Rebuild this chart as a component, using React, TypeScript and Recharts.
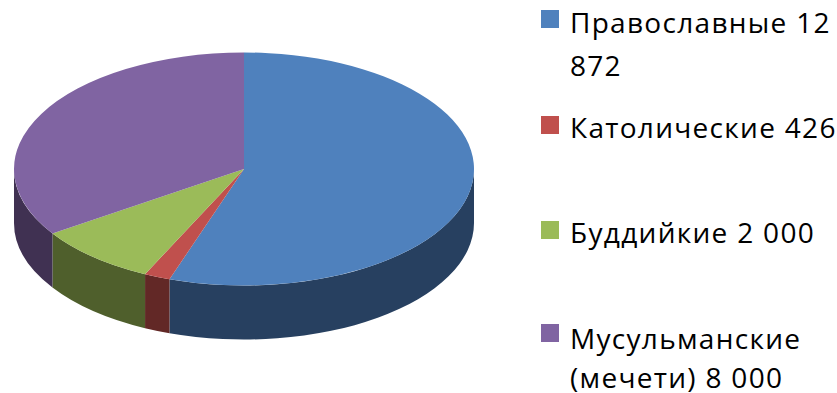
import React from "react";
import { PieChart, Pie, Legend } from "recharts";

const categories = ["Православные", "Католические", "Буддийкие", "Мусульманские (мечети)"];
const values = [12872, 426, 2000, 8000];
const legendLines = [
  ["Православные 12", "872"],
  ["Католические 426"],
  ["Буддийкие 2 000"],
  ["Мусульманские", "(мечети) 8 000"],
];
const topColors = ["#4F81BD", "#C0504D", "#9BBB59", "#8064A2"];
const sideColors = ["#274060", "#622826", "#4F5F2C", "#403152"];

const TILT = 116.5 / 230;
const DEPTH = 54;
const rowData = categories.map((name, i) => ({ name, value: values[i], fill: topColors[i], side: sideColors[i] }));

const pt = (cx: number, cy: number, r: number, deg: number) => {
  const a = (deg * Math.PI) / 180;
  return [cx + r * Math.cos(a), cy - r * TILT * Math.sin(a)];
};

const TopShape = (p: any) => {
  const { cx, cy, outerRadius: r, startAngle: s, endAngle: e, fill } = p;
  const [x0, y0] = pt(cx, cy, r, s);
  const [x1, y1] = pt(cx, cy, r, e);
  const large = Math.abs(s - e) > 180 ? 1 : 0;
  return (
    <path
      d={`M${cx},${cy}L${x0},${y0}A${r},${r * TILT} 0 ${large} 1 ${x1},${y1}Z`}
      fill={fill}
      stroke="none"
    />
  );
};

const SideShape = (p: any) => {
  const { cx, cy, outerRadius: r, startAngle: s, endAngle: e, side } = p;
  // Only the front half of the rim (180° to 360°, i.e. -180° to 0°) can be seen
  const hi = Math.min(s, 0);
  const lo = Math.max(e, -180);
  if (hi <= lo) return <g />;
  const [x0, y0] = pt(cx, cy, r, hi);
  const [x1, y1] = pt(cx, cy, r, lo);
  const ry = r * TILT;
  return (
    <path
      d={`M${x0},${y0}A${r},${ry} 0 0 1 ${x1},${y1}L${x1},${y1 + DEPTH}A${r},${ry} 0 0 0 ${x0},${y0 + DEPTH}Z`}
      fill={side}
      stroke="none"
    />
  );
};

const markerTops = [10, 116, 221, 324];
const lineTops = [[9, 52], [114], [219], [325, 364]];

const LegendBox = () => (
  <div style={{ position: "relative", width: 837, height: 393 }}>
    {legendLines.map((lines, i) => (
      <React.Fragment key={i}>
        <div style={{ position: "absolute", left: 541, top: markerTops[i], width: 18, height: 18, background: topColors[i] }} />
        {lines.map((t, j) => (
          <div
            key={j}
            style={{
              position: "absolute",
              left: 570,
              top: lineTops[i][j],
              whiteSpace: "nowrap",
              fontFamily: "'Open Sans', sans-serif",
              fontSize: 28,
              letterSpacing: 1.3,
              lineHeight: "26px",
              color: "#000",
            }}
          >
            {t}
          </div>
        ))}
      </React.Fragment>
    ))}
  </div>
);

export default function App() {
  return (
    <div style={{ position: "fixed", left: 0, top: 0, width: 837, height: 393, overflow: "hidden", background: "#fff" }}>
      <PieChart width={837} height={393} margin={{ top: 0, right: 0, bottom: 0, left: 0 }}>
        <Pie
          data={rowData}
          dataKey="value"
          nameKey="name"
          cx={244}
          cy={169}
          outerRadius={230}
          innerRadius={0}
          startAngle={90}
          endAngle={-270}
          stroke="none"
          legendType="none"
          isAnimationActive={false}
          shape={SideShape}
          inactiveShape={SideShape}
        />
        <Pie
          data={rowData}
          dataKey="value"
          nameKey="name"
          cx={244}
          cy={169}
          outerRadius={230}
          innerRadius={0}
          startAngle={90}
          endAngle={-270}
          stroke="none"
          isAnimationActive={false}
          shape={TopShape}
          inactiveShape={TopShape}
        />
        <Legend content={<LegendBox />} wrapperStyle={{ left: 0, top: 0, width: 837, height: 393, bottom: "auto" }} />
      </PieChart>
    </div>
  );
}
